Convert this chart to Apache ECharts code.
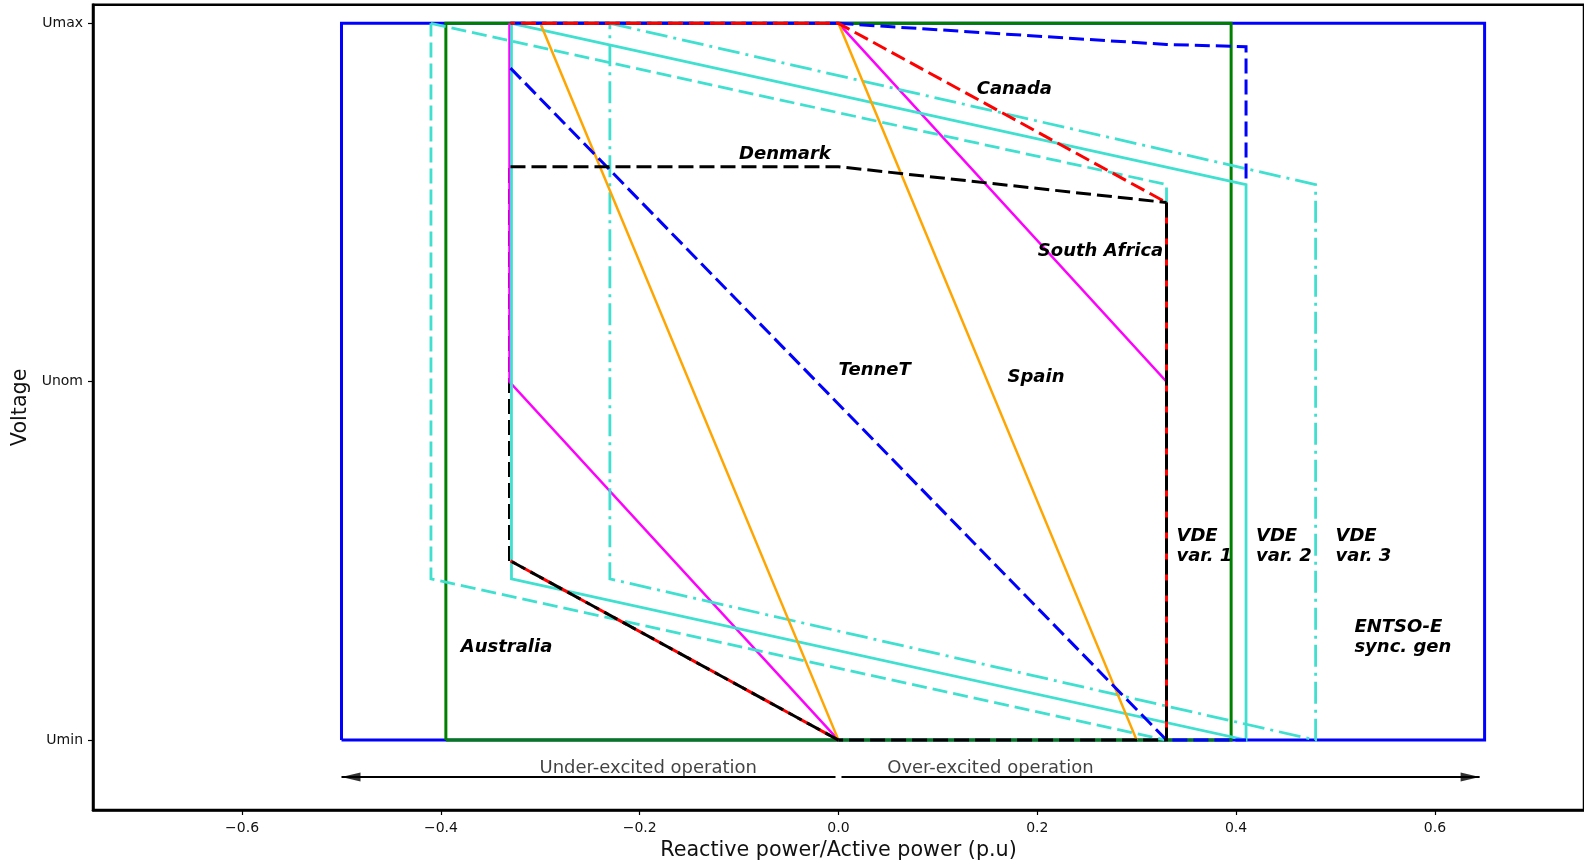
<!DOCTYPE html>
<html><head><meta charset="utf-8">
<script src="https://cdn.jsdelivr.net/npm/echarts@6/dist/echarts.min.js"></script>
<style>html,body{margin:0;padding:0;background:#fff}#c{width:1584px;height:866px}</style>
</head><body><div id="c"></div>
<script>
// ---------- data (Q/P in p.u., voltage in p.u.: Umin=0.9, Unom=1.0, Umax=1.1) ----------
const xTicks = [-0.6, -0.4, -0.2, 0, 0.2, 0.4, 0.6];
const yTicks = [0.9, 1.0, 1.1];
const yTickLabels = ['Umin', 'Unom', 'Umax'];

const entsoe       = [[-0.5, 0.9], [-0.5, 1.1], [0.65, 1.1], [0.65, 0.9], [-0.5, 0.9]];
const australia    = [[-0.395, 0.9], [-0.395, 1.1], [0.395, 1.1], [0.395, 0.9], [-0.395, 0.9]];
const vde1         = [[-0.41, 1.1], [0.33, 1.055], [0.33, 0.9], [-0.41, 0.945], [-0.41, 1.1]];
const vde2         = [[-0.329, 1.1], [0.41, 1.055], [0.41, 0.9], [-0.329, 0.945], [-0.329, 1.1]];
const vde3         = [[-0.23, 1.1], [0.48, 1.055], [0.48, 0.9], [-0.23, 0.945], [-0.23, 1.1]];
const spainLeft    = [[-0.3, 1.1], [0, 0.9]];
const spainRight   = [[0, 1.1], [0.3, 0.9]];
const saLeft       = [[-0.331, 1.1], [-0.331, 1.0], [0, 0.9]];
const saRight      = [[0, 1.1], [0.33, 1.0], [0.33, 0.9]];
const tennetTopL   = [[-0.33, 1.1], [0, 1.1]];
const tennetTopR   = [[0, 1.1], [0.33, 1.0941], [0.41, 1.0935], [0.41, 1.055]];
const tennetDiag   = [[-0.33, 1.0875], [0.33, 0.9], [0.41, 0.9]];
const canadaTop    = [[-0.33, 1.1], [0, 1.1], [0.33, 1.05]];
const canadaRight  = [[0.33, 1.05], [0.33, 0.9]];
const canadaLow    = [[0, 0.9], [-0.33, 0.95]];
const denmarkLeft  = [[-0.3315, 0.95], [-0.3315, 1.06]];
const denmarkTop   = [[-0.33, 1.06], [0, 1.06], [0.33, 1.05]];
const denmarkRight = [[0.33, 1.05], [0.33, 0.9], [0, 0.9]];
const denmarkLow   = [[0, 0.9], [-0.33, 0.95]];

const underArrow  = [[-0.003, 0.8897], [-0.5, 0.8897]];
const overArrow   = [[0.003, 0.8897], [0.645, 0.8897]];
const arrowTexts  = ['Under-excited operation', 'Over-excited operation'];
const arrowTextX  = [-0.1914, 0.1528];
const arrowTextY  = [0.8922, 0.8922];

const labelNames = ['Canada', 'Denmark', 'South Africa', 'TenneT', 'Spain', 'VDE\nvar. 1', 'VDE\nvar. 2', 'VDE\nvar. 3', 'ENTSO-E\nsync. gen', 'Australia'];
const labelX     = [0.139, -0.1, 0.2005, 0.0, 0.170, 0.34, 0.42, 0.50, 0.519, -0.38];
const labelY     = [1.0815, 1.0635, 1.0365, 1.0033, 1.0013, 0.954, 0.954, 0.954, 0.9288, 0.926];

// ---------- styles ----------
const C = {blue: '#0000ff', green: '#008000', turq: '#40e0d0', orange: '#ffa500', magenta: '#ff00ff', red: '#ff0000', black: '#000000'};
const DASH = [15, 6];
const DASHDOT = [22, 6, 3, 6];
const HALF = 10.5;
const FONT = 'DejaVu Sans';

function ln(name, data, color, width, type, z, offset) {
  return {
    name, type: 'line', data, z: z, showSymbol: false, symbol: 'none', silent: true, animation: false,
    lineStyle: {color, width, type: type || 'solid', dashOffset: offset || 0, cap: 'butt', join: 'miter'}
  };
}

const series = [
  ln('ENTSO-E', entsoe, C.blue, 3, 'solid', 2),
  ln('Australia', australia, C.green, 3, 'solid', 3),
  ln('Denmark left', denmarkLeft, C.black, 2, DASH, 3),
  ln('South Africa L', saLeft, C.magenta, 2.5, 'solid', 4),
  ln('South Africa R', saRight, C.magenta, 2.5, 'solid', 4),
  ln('VDE var. 1', vde1, C.turq, 2.8, DASH, 5),
  ln('VDE var. 2', vde2, C.turq, 2.8, 'solid', 5),
  ln('VDE var. 3', vde3, C.turq, 2.8, DASHDOT, 5),
  ln('Spain L', spainLeft, C.orange, 2.5, 'solid', 6),
  ln('Spain R', spainRight, C.orange, 2.5, 'solid', 6),
  ln('TenneT top L', tennetTopL, C.blue, 3, DASH, 7),
  ln('TenneT top R', tennetTopR, C.blue, 3, DASH, 7),
  ln('TenneT diag', tennetDiag, C.blue, 3, DASH, 7),
  ln('Canada top', canadaTop, C.red, 3, DASH, 8, HALF),
  ln('Canada right', canadaRight, C.red, 3, DASH, 8, HALF),
  ln('Canada low', canadaLow, C.red, 3, DASH, 8, HALF),
  ln('Denmark top', denmarkTop, C.black, 3, DASH, 9),
  ln('Denmark right', denmarkRight, C.black, 3, DASH, 9),
  ln('Denmark low', denmarkLow, C.black, 3, DASH, 9),
  ln('under', underArrow, C.black, 2, 'solid', 10),
  ln('over', overArrow, C.black, 2, 'solid', 10),
  {
    type: 'scatter', z: 11, silent: true, animation: false,
    data: [
      {value: underArrow[1], symbol: 'path://M18,0L0,4L18,8Z', symbolSize: [19, 9], symbolOffset: ['50%', 0]},
      {value: overArrow[1], symbol: 'path://M0,0L18,4L0,8Z', symbolSize: [19, 9], symbolOffset: ['-50%', 0]}
    ],
    itemStyle: {color: '#000'}
  },
  {
    type: 'scatter', z: 12, silent: true, animation: false, symbolSize: 0, itemStyle: {color: '#000'},
    data: labelNames.map((n, i) => ({name: n, value: [labelX[i], labelY[i]]})),
    label: {show: true, position: 'right', distance: 0, align: 'left', verticalAlign: 'middle', formatter: p => p.name,
      fontFamily: FONT, fontWeight: 'bold', fontStyle: 'italic', fontSize: 18, lineHeight: 20,
      color: '#000', textBorderWidth: 0, opacity: 1}
  },
  {
    type: 'scatter', z: 12, silent: true, animation: false, symbolSize: 0, itemStyle: {color: '#000'},
    data: arrowTexts.map((n, i) => ({name: n, value: [arrowTextX[i], arrowTextY[i]]})),
    label: {show: true, position: [0, 0], align: 'center', verticalAlign: 'middle', formatter: p => p.name,
      fontFamily: FONT, fontSize: 18, color: '#111', textBorderWidth: 0}
  }
];

const chart = echarts.init(document.getElementById('c'), null, {renderer: 'canvas'});
chart.setOption({
  animation: false,
  backgroundColor: '#fff',
  grid: {left: 93, right: -2, top: 4.7, bottom: 54.3, show: true, borderColor: '#000', borderWidth: 2.5, backgroundColor: 'transparent'},
  xAxis: {
    type: 'value', min: -0.75, max: 0.75,
    name: 'Reactive power/Active power (p.u)', nameLocation: 'middle', nameGap: 30,
    nameTextStyle: {fontFamily: FONT, fontSize: 20.7, color: '#111'},
    axisLine: {show: true, onZero: false, lineStyle: {color: '#000', width: 2.5}},
    axisTick: {show: true, length: 5, lineStyle: {color: '#000', width: 1.2}, customValues: xTicks},
    axisLabel: {customValues: xTicks, margin: 11, fontFamily: FONT, fontSize: 14, color: '#111',
      formatter: v => (Math.abs(v) < 1e-9 ? '0.0' : v.toFixed(1).replace('-', '\u2212'))},
    splitLine: {show: false}
  },
  yAxis: {
    type: 'value', min: 0.8805, max: 1.1052,
    name: 'Voltage', nameLocation: 'middle', nameGap: 57, nameRotate: 90,
    nameTextStyle: {fontFamily: FONT, fontSize: 20.7, color: '#111'},
    axisLine: {show: true, onZero: false, lineStyle: {color: '#000', width: 2.5}},
    axisTick: {show: true, length: 5, lineStyle: {color: '#000', width: 1.2}, customValues: yTicks},
    axisLabel: {customValues: yTicks, margin: 10, fontFamily: FONT, fontSize: 14, color: '#111',
      formatter: v => yTickLabels[yTicks.findIndex(t => Math.abs(t - v) < 1e-6)] || ''},
    splitLine: {show: false}
  },
  series
});
</script>
</body></html>
